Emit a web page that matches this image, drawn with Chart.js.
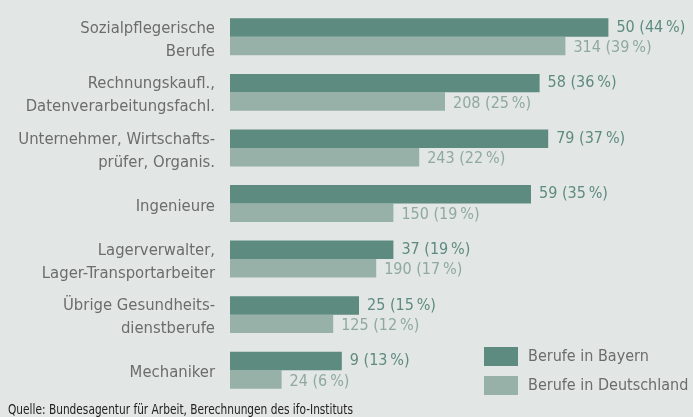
<!DOCTYPE html>
<html>
<head>
<meta charset="utf-8">
<script src="https://cdn.jsdelivr.net/npm/chart.js@4/dist/chart.umd.min.js"></script>
<style>
  html, body { margin: 0; padding: 0; background: #e2e6e4; }
  #wrap { width: 693px; height: 417px; position: relative; }
</style>
</head>
<body>
<div id="wrap"><canvas id="chart"></canvas></div>
<script>
// --- data ---
const categories = [
    ['Sozialpflegerische', 'Berufe'],
    ['Rechnungskaufl.,', 'Datenverarbeitungsfachl.'],
    ['Unternehmer, Wirtschafts-', 'prüfer, Organis.'],
    ['Ingenieure'],
    ['Lagerverwalter,', 'Lager-Transportarbeiter'],
    ['Übrige Gesundheits-', 'dienstberufe'],
    ['Mechaniker']
];
const bayernCount = [50, 58, 79, 59, 37, 25, 9];
const bayernPct = [44, 36, 37, 35, 19, 15, 13];
const deCount = [314, 208, 243, 150, 190, 125, 24];
const dePct = [39, 25, 22, 19, 17, 12, 6];
const seriesNames = ['Berufe in Bayern', 'Berufe in Deutschland'];
const sourceText = 'Quelle: Bundesagentur für Arbeit, Berechnungen des ifo-Instituts';

const FONT = "'Liberation Sans Narrow', 'DejaVu Sans Condensed', 'Roboto', sans-serif";
const darkGreen = '#5e8b7f';
const lightGreen = '#97b1a9';
const darkText = '#5e8b7f';
const lightText = '#8fa9a1';
const grayText = '#6b6d6c';

// labels "50 (44 %)" next to every bar
const valueLabels = {
    id: 'valueLabels',
    afterDatasetsDraw(chart) {
        const c = chart.ctx;
        c.save();
        c.font = '16px ' + FONT;
        c.textBaseline = 'middle';
        c.textAlign = 'left';
        chart.data.datasets.forEach(function (ds, i) {
            const meta = chart.getDatasetMeta(i);
            meta.data.forEach(function (bar, j) {
                c.fillStyle = i === 0 ? darkText : lightText;
                const txt = ds.counts[j] + ' (' + ds.data[j] + '\u2009%)';
                c.fillText(txt, bar.x + 8, bar.y + (i === 0 ? 0 : 2));
            });
        });
        c.restore();
    }
};

// legend box bottom right + source line
const extras = {
    id: 'extras',
    afterDraw(chart) {
        const c = chart.ctx;
        c.save();
        c.font = '16px ' + FONT;
        c.textBaseline = 'middle';
        chart.data.datasets.forEach(function (ds, i) {
            const y = 347 + i * 29;
            c.fillStyle = ds.backgroundColor;
            c.fillRect(484, y, 34, 19);
            c.fillStyle = grayText;
            c.fillText(ds.label, 528, y + 10);
        });
        // source line, squeezed to the width it has in the original
        c.font = '13.5px ' + FONT;
        c.fillStyle = '#222';
        c.textBaseline = 'alphabetic';
        const w = c.measureText(sourceText).width;
        c.translate(8, 414);
        c.scale(Math.min(1, 345 / w), 1);
        c.fillText(sourceText, 0, 0);
        c.restore();
    }
};

const ctx = document.getElementById('chart');

new Chart(ctx, {
    type: 'bar',
    data: {
        labels: categories,
        datasets: [
            {
                label: seriesNames[0],
                data: bayernPct,
                counts: bayernCount,
                backgroundColor: darkGreen,
                barPercentage: 1,
                categoryPercentage: 0.665
            },
            {
                label: seriesNames[1],
                data: dePct,
                counts: deCount,
                backgroundColor: lightGreen,
                barPercentage: 1,
                categoryPercentage: 0.665
            }
        ]
    },
    options: {
        indexAxis: 'y',
        responsive: true,
        maintainAspectRatio: false,
        animation: false,
        layout: {
            padding: { top: 9, bottom: 19, left: 0, right: 33 }
        },
        plugins: {
            legend: { display: false },
            tooltip: { enabled: false }
        },
        scales: {
            x: {
                display: false,
                min: 0,
                max: 50
            },
            y: {
                grid: { display: false },
                border: { display: false },
                afterFit: function (axis) {
                    axis.width = 230;
                    axis.paddingTop = 0;
                    axis.paddingBottom = 0;
                },
                ticks: {
                    padding: 7,
                    labelOffset: 3,
                    color: grayText,
                    font: { family: FONT, size: 16.5, lineHeight: 1.4 }
                }
            }
        }
    },
    plugins: [valueLabels, extras]
});
</script>
</body>
</html>
